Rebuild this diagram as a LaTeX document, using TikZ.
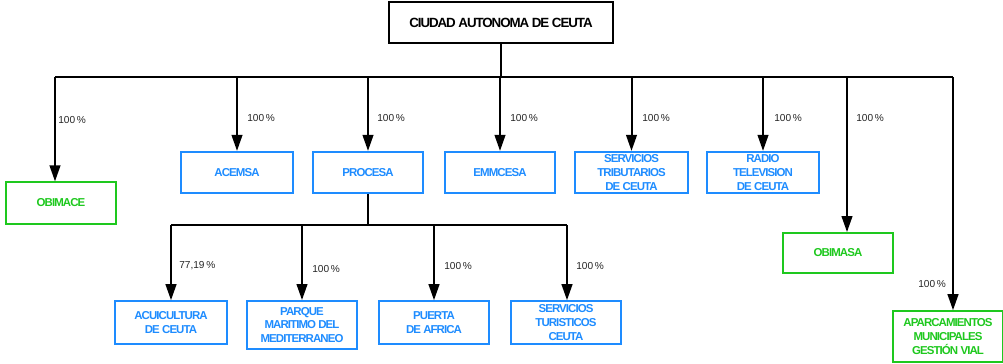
\documentclass[tikz,border=0pt]{standalone}
\usepackage{fontspec}
\setmainfont{Liberation Sans}
\newfontfamily\boxfont[LetterSpace=-8]{Liberation Sans}
\usetikzlibrary{arrows.meta,positioning}
\definecolor{orgblue}{RGB}{30,140,255}
\definecolor{orggreen}{RGB}{30,200,30}
\tikzset{
  firm/.style={draw=orgblue, text=orgblue, line width=1.4pt, inner sep=0pt,
               minimum width=82.5pt, minimum height=31pt, align=center,
               font=\boxfont\bfseries\fontsize{8.6}{10.2}\selectfont},
  muni/.style={firm, draw=orggreen, text=orggreen},
  pct/.style={anchor=west, inner sep=0pt, text=black!85,
              font=\fontsize{7.6}{9}\selectfont},
  arr/.style={line width=1.5pt, -{Triangle[length=12pt,width=8pt]}},
  bus/.style={line width=1.5pt}
}

\begin{document}
\begin{tikzpicture}[x=0.75pt,y=-0.75pt]
  \useasboundingbox (0,0) rectangle (1003,364);

  % parent
  \node[draw, line width=1.4pt, inner sep=0pt, minimum width=168pt, minimum height=31pt,
        font=\boxfont\bfseries\fontsize{10}{12}\selectfont] (ceuta) at (501,22.5)
       {CIUDAD AUTONOMA DE CEUTA};

  % first level
  \node[muni] (obimace) at (61,203) {OBIMACE};
  \node[firm, minimum width=84pt] (acemsa) at (237,172.5) {ACEMSA};
  \node[firm] (procesa) at (368,172.5) {PROCESA};
  \node[firm] (emmcesa) at (500,172.5) {EMMCESA};
  \node[firm, minimum width=85pt] (sertrib) at (631.5,172.5) {SERVICIOS\\TRIBUTARIOS\\DE CEUTA};
  \node[firm, minimum width=84pt] (radio) at (763,172.5) {RADIO\\TELEVISION\\DE CEUTA};
  \node[muni, minimum height=30pt] (obimasa) at (838,253) {OBIMASA};
  \node[muni, minimum height=38pt] (aparc) at (948,336.5) {APARCAMIENTOS\\MUNICIPALES\\GESTIÓN VIAL};

  % second level (procesa)
  \node[firm, minimum width=84pt, minimum height=32pt] (acui) at (171,322.5) {ACUICULTURA\\DE CEUTA};
  \node[firm, minimum height=36pt] (parque) at (302,325) {PARQUE\\MARITIMO DEL\\MEDITERRANEO};
  \node[firm, minimum height=32pt] (puerta) at (434,322.5) {PUERTA\\DE AFRICA};
  \node[firm, minimum height=32pt] (sertur) at (566,322.5) {SERVICIOS\\TURISTICOS\\CEUTA};

  % buses
  \coordinate (busL) at (55,77);
  \coordinate (busO) at (847,77);
  \coordinate (busR) at (953,77);
  \coordinate (subL) at (171,225);
  \coordinate (subR) at (567,225);
  \draw[bus] (ceuta.south) -- (ceuta.south |- busL);
  \draw[bus] (busL) -- (busR);
  \draw[bus] (procesa.south) -- (procesa.south |- subL);
  \draw[bus] (subL) -- (subR);

  % arrows
  \draw[arr] (busL) -- (busL |- obimace.north);
  \draw[arr] (acemsa |- busL) -- (acemsa);
  \draw[arr] (procesa |- busL) -- (procesa);
  \draw[arr] (emmcesa |- busL) -- (emmcesa);
  \draw[arr] (sertrib |- busL) -- (sertrib);
  \draw[arr] (radio |- busL) -- (radio);
  \draw[arr] (busO) -- (busO |- obimasa.north);
  \draw[arr] (busR) -- (busR |- aparc.north);
  \draw[arr] (subL) -- (acui);
  \draw[arr] (parque |- subL) -- (parque);
  \draw[arr] (puerta |- subL) -- (puerta);
  \draw[arr] (subR) -- (subR |- sertur.north);

  % shares
  \node[pct] (p-obimace) at (58,120) {100\,\%};
  \node[pct] (p-acemsa) at (247,118) {100\,\%};
  \node[pct] (p-procesa) at (377,118) {100\,\%};
  \node[pct] (p-emmcesa) at (510,118) {100\,\%};
  \node[pct] (p-sertrib) at (642,118) {100\,\%};
  \node[pct] (p-radio) at (774,118) {100\,\%};
  \node[pct] (p-obimasa) at (856,118) {100\,\%};
  \node[pct] (p-aparc) at (918,284) {100\,\%};
  \node[pct] (p-acui) at (179,266) {77,19\,\%};
  \node[pct] (p-parque) at (312,269) {100\,\%};
  \node[pct] (p-puerta) at (444,266) {100\,\%};
  \node[pct] (p-sertur) at (576,266) {100\,\%};
\end{tikzpicture}
\end{document}
